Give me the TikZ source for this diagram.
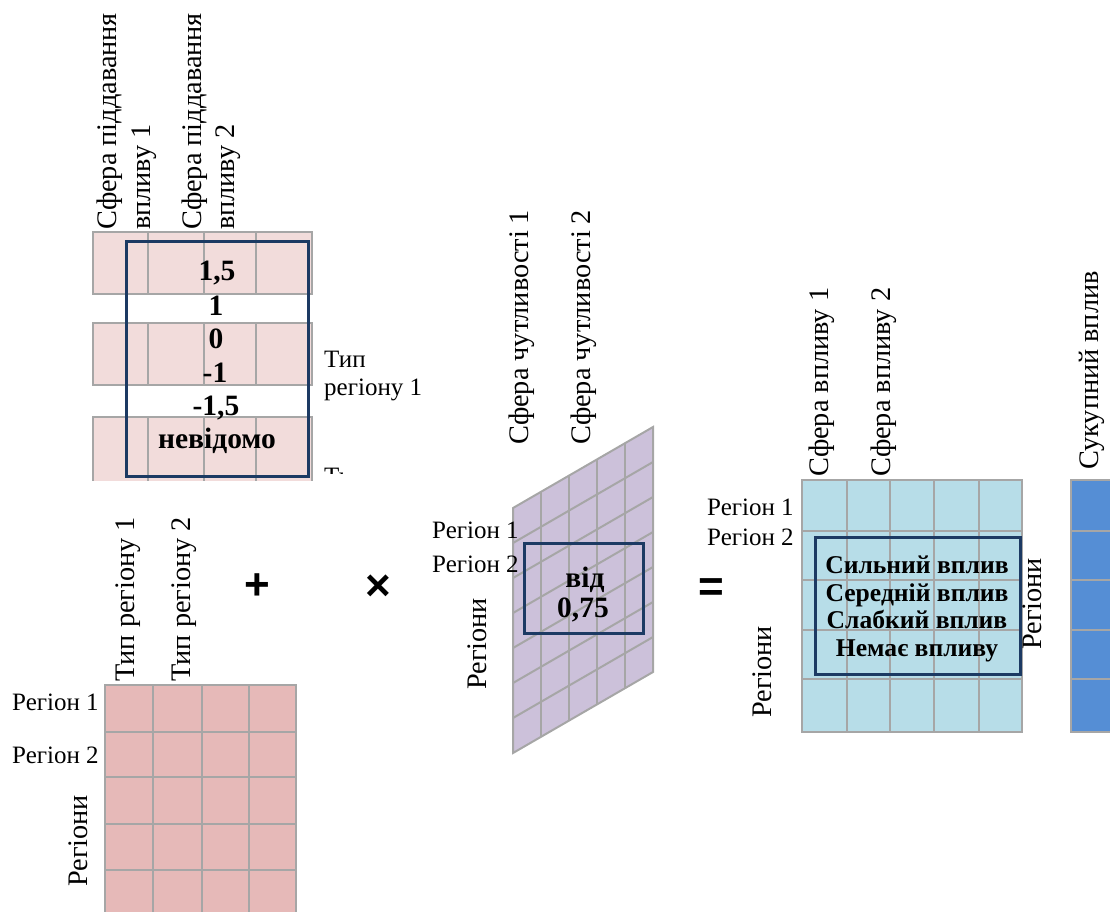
\documentclass[tikz,border=0pt]{standalone}
\usepackage{fontspec}
\setmainfont{Liberation Serif}
\newfontfamily\opfont{Liberation Sans}
\definecolor{pinkL}{HTML}{F2DCDB}
\definecolor{pinkD}{HTML}{E6B9B8}
\definecolor{lav}{HTML}{CCC1DA}
\definecolor{lblue}{HTML}{B7DDE8}
\definecolor{dblue}{HTML}{558ED5}
\definecolor{gridgray}{HTML}{A6A6A6}
\definecolor{navy}{HTML}{1C3A63}
\begin{document}
\begin{tikzpicture}[x=1pt,y=-1pt,
  gridline/.style={draw=gridgray, line width=2pt},
  navybox/.style={draw=navy, line width=3pt},
  rlab/.style={rotate=90, anchor=base west, inner sep=0pt, font=\fontsize{28.3}{32}\selectfont},
  hlab/.style={anchor=base west, inner sep=0pt, font=\fontsize{25}{30}\selectfont},
  bnum/.style={anchor=base, inner sep=0pt, font=\bfseries\fontsize{29.5}{34}\selectfont},
  btxt/.style={anchor=base, inner sep=0pt, font=\bfseries\fontsize{25.6}{30}\selectfont},
  opsign/.style={inner sep=0pt, font=\opfont\bfseries\fontsize{44}{48}\selectfont}]
\useasboundingbox (0,0) rectangle (1110,911);

% ---------- top-left table ----------
\begin{scope}
\clip (0,0) rectangle (450,480);
\foreach \ya/\yb in {232/294, 323/385, 417/482}{
  \fill[pinkL] (93,\ya) rectangle (312,\yb);
  \foreach \xx in {148,204,256}{ \draw[gridline] (\xx,\ya) -- (\xx,\yb); }
  \draw[gridline] (93,\ya) rectangle (312,\yb);
}
\draw[navybox] (126,241) rectangle (308,476);
\node[bnum] (n15) at (217,280) {1,5};
\node[bnum] (n1) at (216,315) {1};
\node[bnum] (n0) at (216,348) {0};
\node[bnum] (nm1) at (215,382) {-1};
\node[bnum] (nm15) at (216,415) {-1,5};
\node[bnum] (nunk) at (217,448) {невідомо};
\node[hlab] (tip1a) at (324,367) {Тип};
\node[hlab] (tip1b) at (324,395) {регіону 1};
\end{scope}
\begin{scope}
\clip (300,400) rectangle (342,473);
\node[hlab] (tip2a) at (324,484) {Тип};
\end{scope}
\node[rlab] (tl1a) at (116,230) {Сфера піддавання};
\node[rlab] (tl1b) at (150,230) {впливу 1};
\node[rlab] (tl2a) at (201,230) {Сфера піддавання};
\node[rlab] (tl2b) at (234,230) {впливу 2};

% ---------- bottom-left table ----------
\fill[pinkD] (105,685) rectangle (296,920);
\foreach \xx in {153,202,249}{ \draw[gridline] (\xx,685) -- (\xx,920); }
\foreach \yy in {732,777,824,870}{ \draw[gridline] (105,\yy) -- (296,\yy); }
\draw[gridline] (105,920) -- (105,685) -- (296,685) -- (296,920);
\node[rlab] (bl1) at (134,682) {Тип регіону 1};
\node[rlab] (bl2) at (190,682) {Тип регіону 2};
\node[rlab] (blR) at (87,887) {Регіони};
\node[hlab] (blr1) at (12,710) {Регіон 1};
\node[hlab] (blr2) at (12,763) {Регіон 2};

% ---------- operators ----------
\node[opsign] (plus) at (257,587) {+};
\node[opsign] (times) at (378,588) {×};
\node[opsign] (eq) at (711,590) {=};

% ---------- parallelogram ----------
\fill[lav] (513,508) -- (653,427) -- (653,672) -- (513,753) -- cycle;
\foreach \k in {1,...,6}{ \draw[gridline] (513,508+35*\k) -- (653,427+35*\k); }
\foreach \i in {1,...,4}{ \draw[gridline] (513+28*\i,508-16.2*\i) -- (513+28*\i,753-16.2*\i); }
\draw[gridline] (513,508) -- (653,427) -- (653,672) -- (513,753) -- cycle;
\draw[navybox] (524,543) rectangle (643,633);
\node[bnum] (vid) at (585,587) {від};
\node[bnum] (v075) at (583,617) {0,75};
\node[rlab] (pc1) at (528,445) {Сфера чутливості 1};
\node[rlab] (pc2) at (590,445) {Сфера чутливості 2};
\node[rlab] (pR) at (486,690) {Регіони};
\node[hlab] (pr1) at (432,538) {Регіон 1};
\node[hlab] (pr2) at (432,572) {Регіон 2};

% ---------- right matrix ----------
\fill[lblue] (802,480) rectangle (1022,732);
\foreach \xx in {847,890,934,979}{ \draw[gridline] (\xx,480) -- (\xx,732); }
\foreach \yy in {531,580,630,679}{ \draw[gridline] (802,\yy) -- (1022,\yy); }
\draw[gridline] (802,480) rectangle (1022,732);
\draw[navybox] (815,537) rectangle (1020,674);
\node[btxt] (s1) at (917,573) {Сильний вплив};
\node[btxt] (s2) at (917,601) {Середній вплив};
\node[btxt] (s3) at (917,628) {Слабкий вплив};
\node[btxt] (s4) at (917,656) {Немає впливу};
\node[rlab] (rm1) at (828,477) {Сфера впливу 1};
\node[rlab] (rm2) at (890,477) {Сфера впливу 2};
\node[rlab] (rmL) at (771,718) {Регіони};
\node[rlab] (rmR) at (1041,650) {Регіони};
\node[hlab] (rr1) at (707,515) {Регіон 1};
\node[hlab] (rr2) at (707,545) {Регіон 2};

% ---------- total column ----------
\fill[dblue] (1071,480) rectangle (1120,732);
\foreach \yy in {531,580,630,679}{ \draw[gridline] (1071,\yy) -- (1120,\yy); }
\draw[gridline] (1120,480) -- (1071,480) -- (1071,732) -- (1120,732);
\node[rlab] (col) at (1098,470) {Сукупний вплив};
\end{tikzpicture}
\end{document}
